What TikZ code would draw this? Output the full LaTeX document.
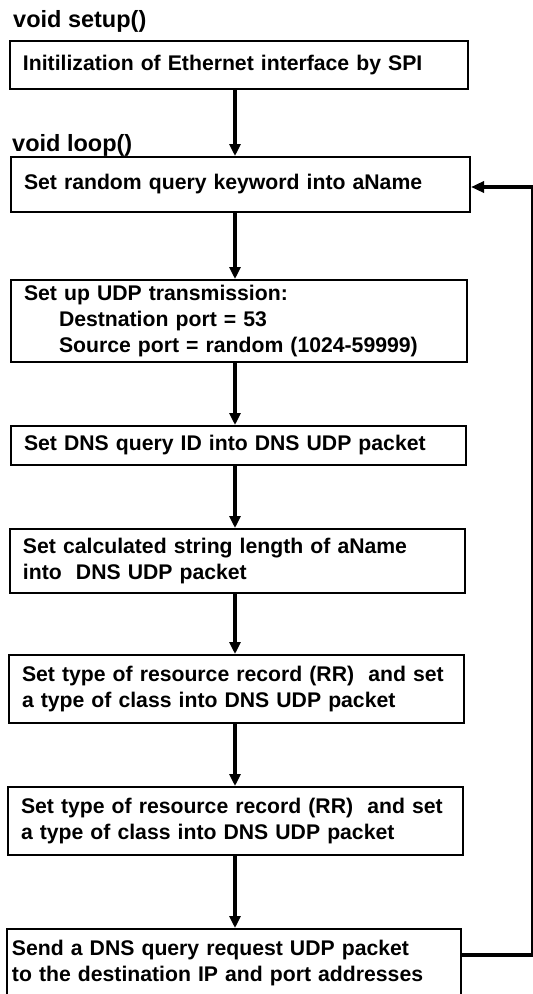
\documentclass[tikz,border=0pt]{standalone}
\usepackage{fontspec}
\setmainfont{Liberation Sans}
\newfontfamily\flowfont{Liberation Sans Bold}
\usetikzlibrary{arrows.meta}
\begin{document}
\begin{tikzpicture}[x=1pt,y=-1pt,
  every node/.style={font=\flowfont\fontsize{21.2}{26}\selectfont},
  box/.style={draw=black,line width=2pt,rectangle,align=left,inner ysep=0pt,
    inner xsep=13pt,text width=#1-26pt,minimum width=#1,anchor=center},
  title/.style={anchor=west,inner sep=0pt,font=\flowfont\fontsize{23.5}{26}\selectfont},
  flow/.style={line width=4pt,-{Triangle[width=11pt,length=12pt]}},
  back/.style={line width=3.5pt,-{Triangle[width=11pt,length=13pt]}},
  backv/.style={line width=2pt}]
\useasboundingbox (0,0) rectangle (533,994);
\fill[white] (0,0) rectangle (533,994);
\coordinate (ax) at (235,0);
\node[title] (t1) at (13,21) {void setup()};
\node[box=458pt,minimum height=48pt] (b1) at (239,65) {Initilization of Ethernet interface by SPI};
\node[title] (t2) at (12,145) {void loop()};
\node[box=459pt,minimum height=55pt] (b2) at (240.5,184.5) {Set random query keyword into aName};
\node[box=456pt,minimum height=82pt] (b3) at (239,321) {Set up UDP transmission:\\\hspace*{35pt}Destnation port = 53\\\hspace*{35pt}Source port = random (1024-59999)};
\node[box=455pt,minimum height=39pt] (b4) at (238.5,445.5) {Set DNS query ID into DNS UDP packet};
\node[box=455pt,minimum height=64pt] (b5) at (237.5,561) {Set calculated string length of aName\\into~ DNS UDP packet};
\node[box=455pt,minimum height=68pt] (b6) at (236.5,689) {Set type of resource record (RR)~ and set\\a type of class into DNS UDP packet};
\node[box=455pt,minimum height=68pt] (b7) at (235.5,821) {Set type of resource record (RR)~ and set\\a type of class into DNS UDP packet};
\node[box=454pt,minimum height=68pt,inner xsep=5pt,text width=444pt] (b8) at (234,963) {Send a DNS query request UDP packet\\to the destination IP and port addresses};
\draw[flow] (b1.south -| ax) -- (b2.north -| ax);
\draw[flow] (b2.south -| ax) -- (b3.north -| ax);
\draw[flow] (b3.south -| ax) -- (b4.north -| ax);
\draw[flow] (b4.south -| ax) -- (b5.north -| ax);
\draw[flow] (b5.south -| ax) -- (b6.north -| ax);
\draw[flow] (b6.south -| ax) -- (b7.north -| ax);
\draw[flow] (b7.south -| ax) -- (b8.north -| ax);
\coordinate (r1) at (532,955);
\coordinate (r2) at (532,187);
\draw[line width=3.5pt] (b8.east |- r1) -- ([xshift=1pt]r1);
\draw[backv] (r1) -- (r2);
\draw[back] ([xshift=1pt]r2) -- (b2.east |- r2);
\end{tikzpicture}
\end{document}
